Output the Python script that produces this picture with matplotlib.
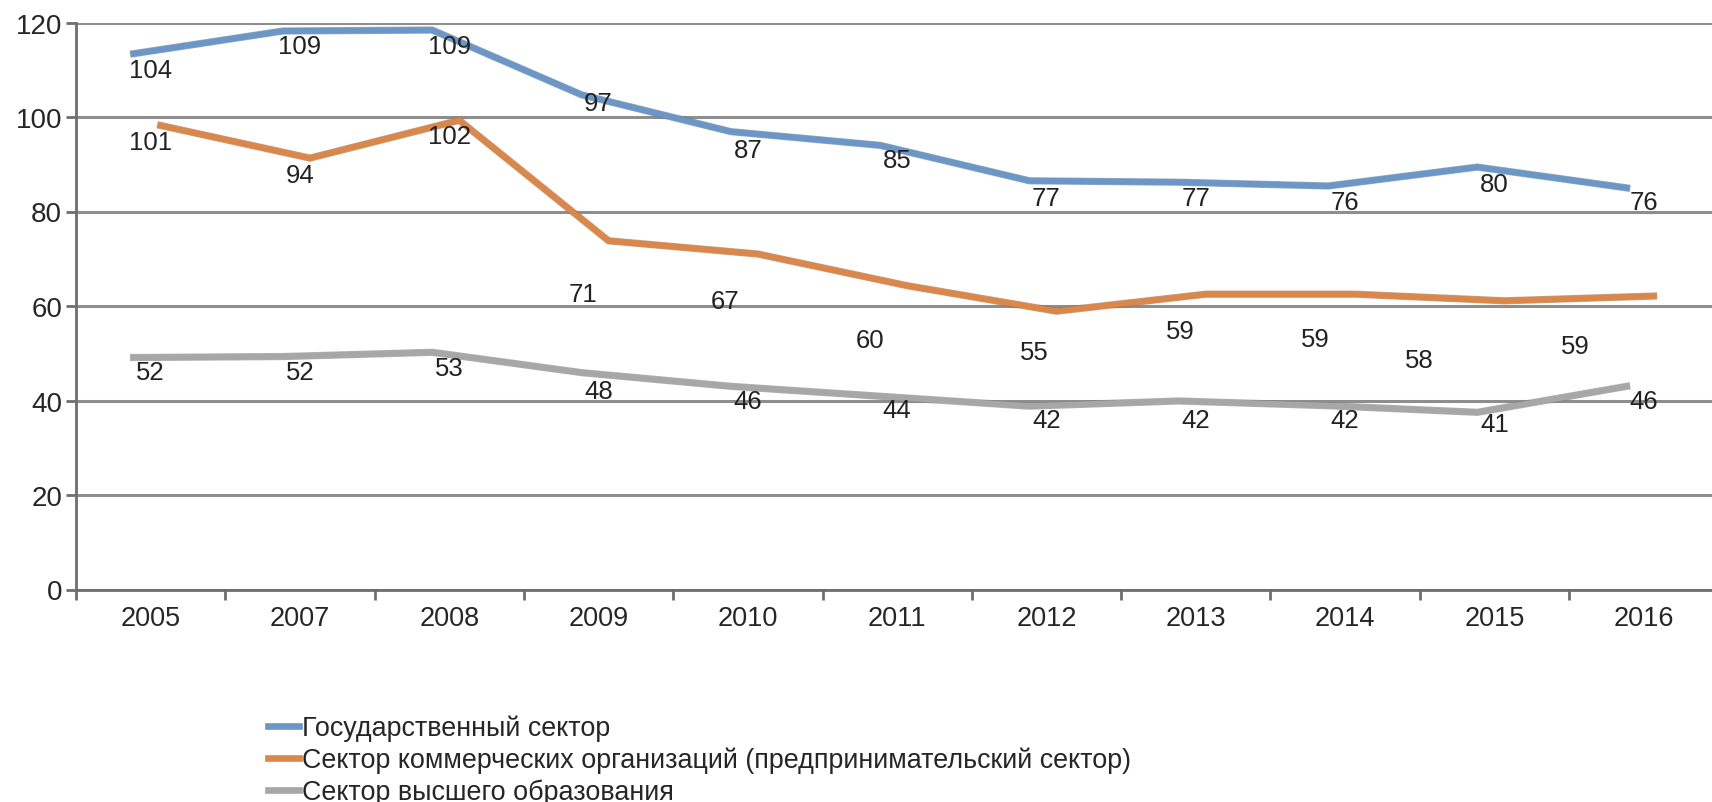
import matplotlib
matplotlib.use("Agg")
import matplotlib.pyplot as plt
import matplotlib.patheffects as pe
from matplotlib.transforms import ScaledTranslation
from matplotlib.lines import Line2D

plt.rcParams['font.family'] = ['Liberation Sans', 'DejaVu Sans']

# ---------------- data ----------------
years = ["2005", "2007", "2008", "2009", "2010", "2011", "2012", "2013", "2014", "2015", "2016"]

series_names = [
    "Государственный сектор",
    "Сектор коммерческих организаций (предпринимательский сектор)",
    "Сектор высшего образования",
]

# plotted line heights (as drawn in the picture)
gov_line = [113.4, 118.2, 118.4, 104.7, 96.9, 94.0, 86.5, 86.2, 85.4, 89.4, 85.0]
biz_line = [98.2, 91.3, 99.3, 73.8, 71.0, 64.3, 58.9, 62.5, 62.5, 61.1, 62.1]
edu_line = [49.1, 49.3, 50.2, 45.9, 43.0, 40.9, 38.8, 39.9, 38.9, 37.5, 43.0]

# data-label values
gov_labels = [104, 109, 109, 97, 87, 85, 77, 77, 76, 80, 76]
biz_labels = [101, 94, 102, 71, 67, 60, 55, 59, 59, 58, 59]
edu_labels = [52, 52, 53, 48, 46, 44, 42, 42, 42, 41, 46]

yticks = [0, 20, 40, 60, 80, 100, 120]

# ---------------- styles / placement ----------------
colors = ["#6b96c6", "#d9874b", "#a7a7a7"]
edge_colors = ["#4f739c", "#a9602d", "#7f7f7f"]
line_dx_px = [-17, 10, -17]          # horizontal shift of each drawn line
gov_lab_off = [(0, 28)] * 11
edu_lab_off = [(0, -28.5)] * 11
biz_lab_off = [(0, -29.5), (0, -30), (0, -28), (-16, -40), (-23, -28), (-27, -34),
               (-12, -22), (-15, -20), (-30, -28.5), (-75, -45), (-68, -35)]

W, H = 1712, 803
fig = plt.figure(figsize=(W / 100, H / 100), dpi=100)
left_px, top_px, bottom_px = 76, 23.5, 590.5
ax = fig.add_axes([left_px / W, 1 - bottom_px / H, 1 - left_px / W, (bottom_px - top_px) / H])

x = list(range(len(years)))
px_per_cat = 149.3
ax.set_xlim(-0.5, -0.5 + (W - left_px) / px_per_cat)
ax.set_ylim(0, 120)

# grid
ax.set_yticks(yticks)
ax.yaxis.grid(True, color="#8e8e8e", linewidth=2.2, zorder=0)
ax.set_axisbelow(True)

for s in ["top", "right"]:
    ax.spines[s].set_visible(False)
for s in ["left", "bottom"]:
    ax.spines[s].set_color("#6e6e6e")
    ax.spines[s].set_linewidth(2.0)

ax.set_xticks(x)
ax.set_xticklabels(years)
ax.set_xticks([i - 0.5 for i in range(len(years))], minor=True)
ax.tick_params(axis="x", which="major", length=0, pad=11, labelsize=19.5, labelcolor="#262626")
ax.tick_params(axis="x", which="minor", length=7, width=2.0, color="#6e6e6e", direction="out")
ax.tick_params(axis="y", which="major", length=7, width=2.0, color="#6e6e6e", pad=3,
               labelsize=20, labelcolor="#262626")

lines_vals = [gov_line, biz_line, edu_line]
for vals, c, ec, dx in zip(lines_vals, colors, edge_colors, line_dx_px):
    tr = ax.transData + ScaledTranslation(dx / 100, 0, fig.dpi_scale_trans)
    ax.plot(x, vals, color=c, linewidth=4.2, transform=tr, zorder=3, solid_joinstyle="miter",
            path_effects=[pe.Stroke(linewidth=5.2, foreground=ec, alpha=0.6), pe.Normal()])

for labs, offs in [(gov_labels, gov_lab_off), (biz_labels, biz_lab_off), (edu_labels, edu_lab_off)]:
    for i, (v, off) in enumerate(zip(labs, offs)):
        ax.annotate(str(v), xy=(i, v), xytext=off, textcoords="offset pixels",
                    ha="center", va="center", fontsize=18.5, color="#222222", zorder=5)

handles = [Line2D([0], [0], color=c, linewidth=4.8) for c in colors]
fig.legend(handles, series_names, loc="upper left", bbox_to_anchor=(268 / W, 1 - 716 / H),
           frameon=False, fontsize=19.4, handlelength=1.15, handletextpad=0.1,
           labelspacing=0.2, borderaxespad=0, borderpad=0, labelcolor="#262626")

fig.savefig("out.png", dpi=100)
